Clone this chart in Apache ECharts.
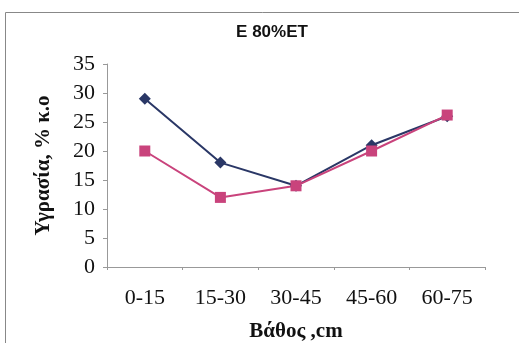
<!DOCTYPE html>
<html>
<head>
<meta charset="utf-8">
<script src="https://cdn.jsdelivr.net/npm/echarts@6/dist/echarts.min.js"></script>
<style>
  html, body { margin: 0; padding: 0; background: #fff; }
  #chart { width: 519px; height: 343px; }
</style>
</head>
<body>
<div id="chart"></div>
<script>
// Soil moisture by depth layer
const depths = ['0-15', '15-30', '30-45', '45-60', '60-75'];
const seriesA = [29, 18, 14, 21, 26];
const seriesB = [20, 12, 14, 20, 26.2];
const yTicks = { min: 0, max: 35, interval: 5 };

const serif = '"Liberation Serif", "DejaVu Serif", serif';
const chart = echarts.init(document.getElementById('chart'));
chart.setOption({
  animation: false,
  backgroundColor: '#fff',
  title: {
    text: 'E 80%ET',
    left: 267, top: 19, textAlign: 'center',
    textStyle: { fontFamily: 'Liberation Sans Narrow, Liberation Sans, Arial, sans-serif', fontWeight: 'bold', fontSize: 17, color: '#111' }
  },
  graphic: [{
    type: 'rect',
    shape: { x: 5.5, y: 12.5, width: 520, height: 340 },
    style: { fill: 'none', stroke: '#888', lineWidth: 1 }
  }],
  grid: { left: 107, right: 34, top: 64, bottom: 76, outerBoundsMode: 'none', containLabel: false },
  xAxis: {
    type: 'category',
    data: depths,
    boundaryGap: true,
    name: 'Βάθος ,cm',
    nameLocation: 'middle',
    nameGap: 54,
    nameTextStyle: { fontFamily: serif, fontWeight: 'bold', fontSize: 21, color: '#111' },
    axisLine: { lineStyle: { color: '#999', width: 1 } },
    axisTick: { show: true, length: 3, lineStyle: { color: '#999' } },
    axisLabel: { fontFamily: serif, fontSize: 22, color: '#111', margin: 20 }
  },
  yAxis: {
    type: 'value',
    min: yTicks.min, max: yTicks.max, interval: yTicks.interval,
    name: 'Υγρασία, % κ.ο',
    nameLocation: 'middle',
    nameGap: 53,
    nameRotate: 90,
    nameTextStyle: { fontFamily: serif, fontWeight: 'bold', fontSize: 21, color: '#111' },
    axisLine: { show: true, lineStyle: { color: '#999', width: 1 } },
    axisTick: { show: true, length: 4, lineStyle: { color: '#999' } },
    splitLine: { show: false },
    axisLabel: { fontFamily: serif, fontSize: 22, color: '#111', margin: 12 }
  },
  series: [
    {
      type: 'line', data: seriesA,
      symbol: 'diamond', symbolSize: 12,
      lineStyle: { color: '#2a3766', width: 2 },
      itemStyle: { color: '#2a3766' }
    },
    {
      type: 'line', data: seriesB,
      symbol: 'rect', symbolSize: 11,
      lineStyle: { color: '#c9437c', width: 2 },
      itemStyle: { color: '#c9437c' }
    }
  ]
});
</script>
</body>
</html>
